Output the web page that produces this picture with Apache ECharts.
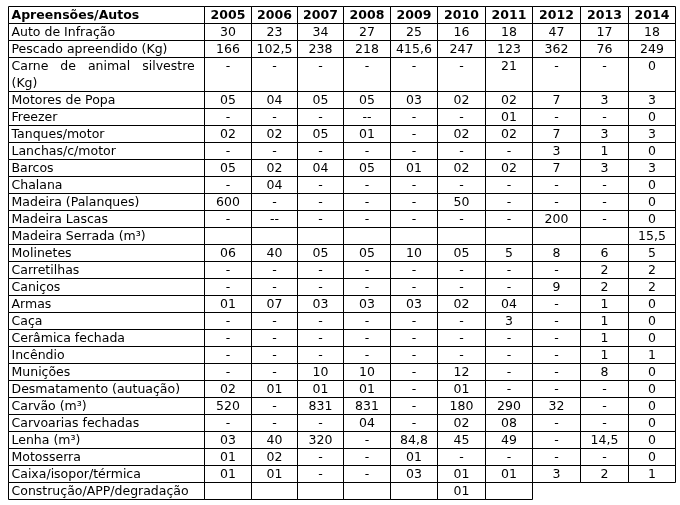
<!DOCTYPE html><html><head><meta charset="utf-8">
<script src="https://cdn.jsdelivr.net/npm/echarts@6/dist/echarts.min.js"></script>
<style>html,body{margin:0;padding:0;background:#fff}#c{width:680px;height:505px}</style></head><body><div id="c"></div>
<script>
const header = ['Apreensões/Autos','2005','2006','2007','2008','2009','2010','2011','2012','2013','2014'];
const labels = ['Auto de Infração','Pescado apreendido (Kg)','Carne de animal silvestre (Kg)','Motores de Popa','Freezer','Tanques/motor','Lanchas/c/motor','Barcos','Chalana','Madeira (Palanques)','Madeira Lascas','Madeira Serrada (m³)','Molinetes','Carretilhas','Caniços','Armas','Caça','Cerâmica fechada','Incêndio','Munições','Desmatamento (autuação)','Carvão (m³)','Carvoarias fechadas','Lenha (m³)','Motosserra','Caixa/isopor/térmica','Construção/APP/degradação'];
const values = [
['30','23','34','27','25','16','18','47','17','18'],
['166','102,5','238','218','415,6','247','123','362','76','249'],
['-','-','-','-','-','-','21','-','-','0'],
['05','04','05','05','03','02','02','7','3','3'],
['-','-','-','--','-','-','01','-','-','0'],
['02','02','05','01','-','02','02','7','3','3'],
['-','-','-','-','-','-','-','3','1','0'],
['05','02','04','05','01','02','02','7','3','3'],
['-','04','-','-','-','-','-','-','-','0'],
['600','-','-','-','-','50','-','-','-','0'],
['-','--','-','-','-','-','-','200','-','0'],
['','','','','','','','','','15,5'],
['06','40','05','05','10','05','5','8','6','5'],
['-','-','-','-','-','-','-','-','2','2'],
['-','-','-','-','-','-','-','9','2','2'],
['01','07','03','03','03','02','04','-','1','0'],
['-','-','-','-','-','-','3','-','1','0'],
['-','-','-','-','-','-','-','-','1','0'],
['-','-','-','-','-','-','-','-','1','1'],
['-','-','10','10','-','12','-','-','8','0'],
['02','01','01','01','-','01','-','-','-','0'],
['520','-','831','831','-','180','290','32','-','0'],
['-','-','-','04','-','02','08','-','-','0'],
['03','40','320','-','84,8','45','49','-','14,5','0'],
['01','02','-','-','01','-','-','-','-','0'],
['01','01','-','-','03','01','01','3','2','1'],
['','','','','','01','']
];
const colX = [8,204,251,297,343,390,437,485,532,580,628,675];
const top0 = 6, rh = 17;
const g = [];
const font = '12.5px "DejaVu Sans", Verdana, sans-serif';
const line = (x1,y1,x2,y2)=>g.push({type:'line',shape:{x1,y1,x2,y2},style:{stroke:'#000',lineWidth:1}});
function rowCells(cells, y, h, bold, nCols){
  for(let i=0;i<nCols;i++){
    const x1=colX[i]+.5,x2=colX[i+1]+.5;
    line(x1,y,x2,y); line(x1,y+h,x2,y+h);
    line(x1,y,x1,y+h); line(x2,y,x2,y+h);
    const t=cells[i]; if(t===undefined||t==='') continue;
    const ff = bold? 'bold '+font : font;
    if(i===0){
      if(h>rh*1.5){
        g.push({type:'text',style:{x:x1+3,y:y+rh/2+.5,text:'Carne   de   animal   silvestre',font:ff,fill:'#000',textVerticalAlign:'middle'}});
        g.push({type:'text',style:{x:x1+3,y:y+rh*1.5+.5,text:'(Kg)',font:ff,fill:'#000',textVerticalAlign:'middle'}});
      } else g.push({type:'text',style:{x:x1+3,y:y+rh/2+.5,text:t,font:ff,fill:'#000',textVerticalAlign:'middle'}});
    } else {
      g.push({type:'text',style:{x:(x1+x2)/2,y:y+rh/2+.5,text:t,font:ff,fill:'#000',textAlign:'center',textVerticalAlign:'middle'}});
    }
  }
}
let y=top0+.5;
rowCells(header,y,rh,true,11); y+=rh;
labels.forEach((l,r)=>{
  const h = r===2? rh*2 : rh;
  rowCells([l].concat(values[r]), y, h, false, 1+values[r].length);
  y+=h;
});
const chart=echarts.init(document.getElementById('c'));
chart.setOption({animation:false,graphic:g});
</script></body></html>
